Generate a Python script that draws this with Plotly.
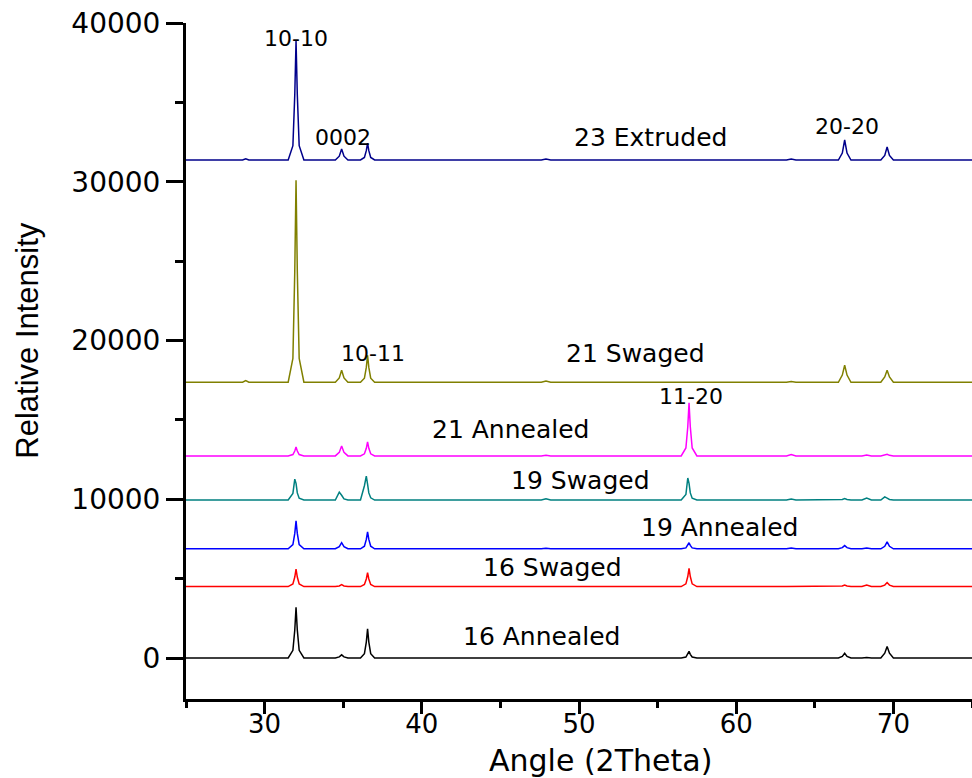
import plotly.graph_objects as go

# Shared angle grid (2Theta, degrees)
ANGLE = [25.0,
         28.6, 28.8, 29.0,
         31.5, 31.8, 31.92, 32.0, 32.08, 32.2, 32.5,
         34.5, 34.75, 34.9, 35.05, 35.3,
         36.1, 36.35, 36.47, 36.55, 36.63, 36.75, 37.0,
         47.6, 47.9, 48.2,
         56.5, 56.8, 56.92, 57.0, 57.08, 57.2, 57.5,
         63.2, 63.5, 63.8,
         66.5, 66.75, 66.9, 67.05, 67.3,
         68.0, 68.3, 68.6,
         69.2, 69.45, 69.6, 69.75, 70.0,
         75.0]

# Intensities above each pattern's own baseline
I_16_ANNEALED = [0,
                 0, 0, 0,
                 0, 480, 1760, 3200, 1760, 480, 0,
                 0, 70, 200, 70, 0,
                 0, 275, 1000, 1830, 1000, 275, 0,
                 0, 0, 0,
                 0, 63, 230, 420, 230, 63, 0,
                 0, 0, 0,
                 0, 105, 300, 105, 0,
                 0, 30, 0,
                 0, 300, 720, 300, 0,
                 0]
I_16_SWAGED = [0,
               0, 0, 0,
               0, 165, 600, 1100, 600, 165, 0,
               0, 40, 120, 40, 0,
               0, 130, 480, 870, 480, 130, 0,
               0, 0, 0,
               0, 170, 630, 1150, 630, 170, 0,
               0, 0, 0,
               0, 35, 100, 35, 0,
               0, 100, 0,
               0, 90, 250, 90, 0,
               0]
I_19_ANNEALED = [0,
                 0, 0, 0,
                 0, 265, 970, 1760, 970, 265, 0,
                 0, 130, 380, 130, 0,
                 0, 160, 590, 1070, 590, 160, 0,
                 0, 40, 0,
                 0, 57, 210, 380, 210, 57, 0,
                 0, 50, 0,
                 0, 70, 200, 70, 0,
                 0, 50, 0,
                 0, 155, 440, 155, 0,
                 0]
I_19_SWAGED = [0,
               0, 0, 0,
               0, 420, 1320, 1050, 450, 110, 0,
               0, 500, 300, 70, 0,
               0, 900, 1510, 1000, 450, 140, 0,
               0, 80, 0,
               0, 350, 1390, 1050, 450, 120, 0,
               0, 60, 0,
               0, 40, 100, 40, 0,
               0, 120, 0,
               0, 200, 120, 40, 0,
               0]
I_21_ANNEALED = [0,
                 0, 0, 0,
                 0, 85, 310, 570, 310, 85, 0,
                 0, 220, 630, 220, 0,
                 0, 130, 480, 880, 480, 130, 0,
                 0, 40, 0,
                 0, 500, 1840, 3340, 1840, 500, 0,
                 0, 80, 0,
                 0, 0, 0, 0, 0,
                 0, 50, 0,
                 0, 35, 100, 35, 0,
                 0]
I_21_SWAGED = [0,
               0, 100, 0,
               0, 1500, 7000, 12720, 7000, 1500, 0,
               0, 270, 760, 270, 0,
               0, 255, 935, 1700, 935, 255, 0,
               0, 80, 0,
               0, 0, 0, 0, 0, 0, 0,
               0, 50, 0,
               0, 450, 1070, 450, 0,
               0, 0, 0,
               0, 330, 760, 330, 0,
               0]
I_23_EXTRUDED = [0,
                 0, 80, 0,
                 0, 900, 4125, 7500, 4125, 900, 0,
                 0, 240, 690, 240, 0,
                 0, 160, 590, 1070, 590, 160, 0,
                 0, 60, 0,
                 0, 0, 0, 0, 0, 0, 0,
                 0, 60, 0,
                 0, 440, 1260, 440, 0,
                 0, 0, 0,
                 0, 290, 820, 290, 0,
                 0]

SERIES_NAMES = ["16 Annealed", "16 Swaged", "19 Annealed", "19 Swaged",
                "21 Annealed", "21 Swaged", "23 Extruded"]
SERIES_DATA = [I_16_ANNEALED, I_16_SWAGED, I_19_ANNEALED, I_19_SWAGED,
               I_21_ANNEALED, I_21_SWAGED, I_23_EXTRUDED]
OFFSETS = [0, 4500, 6880, 9950, 12730, 17370, 31370]
COLORS = ["#000000", "#FF0000", "#0000FF", "#008080",
          "#FF00FF", "#808000", "#00008B"]

# Text labels: (text, x angle, y intensity)
SAMPLE_LABELS = [("16 Annealed", 47.64, 1385), ("16 Swaged", 48.34, 5670),
                 ("19 Annealed", 58.96, 8190), ("19 Swaged", 50.1, 11150),
                 ("21 Annealed", 45.67, 14425), ("21 Swaged", 53.6, 19210),
                 ("23 Extruded", 54.57, 32760)]
PEAK_LABELS = [("10-10", 32.0, 39055), ("0002", 35.0, 32760),
               ("20-20", 67.04, 33450), ("10-11", 36.9, 19210),
               ("11-20", 57.1, 16500)]

X_TICKS = [30, 40, 50, 60, 70]
Y_TICKS = [0, 10000, 20000, 30000, 40000]

fig = go.Figure()
for name, vals, off, col in zip(SERIES_NAMES, SERIES_DATA, OFFSETS, COLORS):
    fig.add_trace(go.Scatter(x=ANGLE, y=[v + off for v in vals], mode="lines",
                             name=name, line=dict(color=col, width=1.5)))

FONT = "DejaVu Sans, Liberation Sans, Arial"
ann = []
for t, x, y in SAMPLE_LABELS:
    ann.append(dict(text=t, x=x, y=y, xref="x", yref="y", showarrow=False,
                    xanchor="center", yanchor="middle",
                    font=dict(family=FONT, size=25, color="black")))
for t, x, y in PEAK_LABELS:
    ann.append(dict(text=t, x=x, y=y, xref="x", yref="y", showarrow=False,
                    xanchor="center", yanchor="middle",
                    font=dict(family=FONT, size=22, color="black")))
ann.append(dict(text="Angle (2Theta)", x=0.527, y=-0.0905, xref="paper", yref="paper",
                xanchor="center", yanchor="middle",
                showarrow=False, font=dict(family=FONT, size=30, color="black")))
ann.append(dict(text="Relative Intensity", x=-0.201, y=0.53, xref="paper", yref="paper",
                xanchor="center", yanchor="middle",
                showarrow=False, textangle=-90,
                font=dict(family="Liberation Sans, Arial", size=31, color="black")))

fig.update_layout(
    width=972, height=778,
    margin=dict(l=186, r=0, t=23, b=79),
    paper_bgcolor="white", plot_bgcolor="white",
    showlegend=False,
    annotations=ann,
    xaxis=dict(range=[25, 75], tickvals=X_TICKS, ticktext=[str(v) for v in X_TICKS],
               automargin=False, ticklabelstandoff=-12,
               showgrid=False, zeroline=False, showline=True, linecolor="black",
               linewidth=2.5, ticks="outside", ticklen=12, tickwidth=2.5,
               tickcolor="black",
               tickfont=dict(family=FONT, size=26, color="black"),
               minor=dict(tickvals=[25, 35, 45, 55, 65, 75], ticks="outside",
                          ticklen=6, tickwidth=2.5, tickcolor="black", showgrid=False)),
    yaxis=dict(range=[-2583, 40000], tickvals=Y_TICKS, ticktext=[str(v) for v in Y_TICKS],
               automargin=False,
               showgrid=False, zeroline=False, showline=True, linecolor="black",
               linewidth=3, ticks="outside", ticklen=17, tickwidth=3,
               tickcolor="black",
               tickfont=dict(family=FONT, size=28, color="black"),
               minor=dict(tickvals=[5000, 15000, 25000, 35000], ticks="outside",
                          ticklen=8, tickwidth=3, tickcolor="black", showgrid=False)),
)

fig.write_html("out.html", config={"displayModeBar": False},
               post_script="document.body.style.margin='0';document.body.style.overflow='hidden';")
